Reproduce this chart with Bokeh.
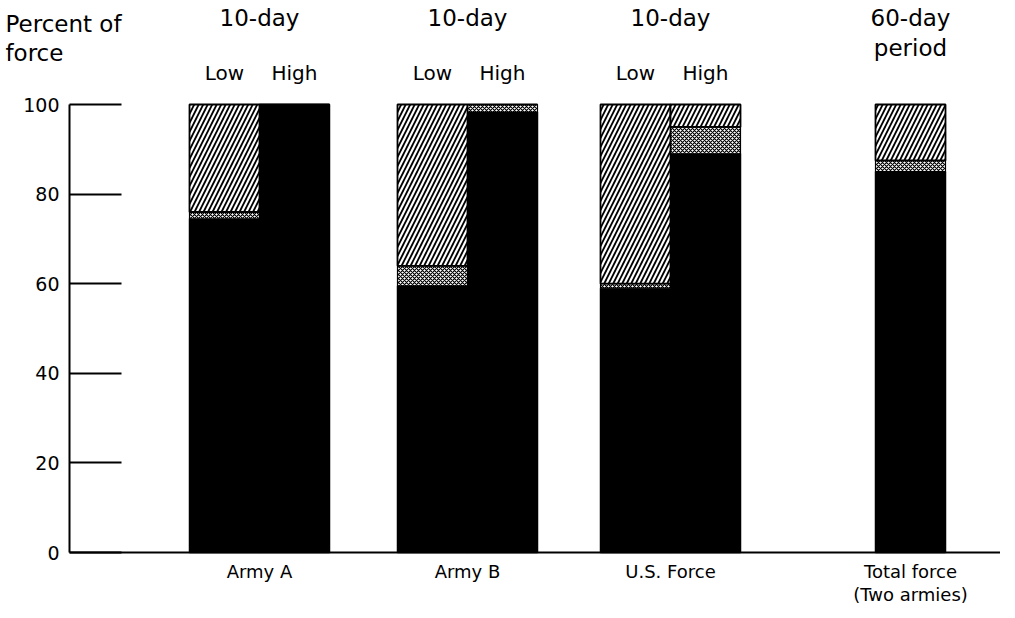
from bokeh.plotting import figure
from bokeh.models import Range1d, FixedTicker, ColumnDataSource
from bokeh.core.properties import value
from bokeh.embed import file_html
from bokeh.resources import INLINE

# ---------------- data ----------------
categories = ["Army A", "Army B", "U.S. Force", "Total force\n(Two armies)"]
period_labels = ["10-day", "10-day", "10-day", "60-day\nperiod"]
y_title = "Percent of\nforce"
y_ticks = [0, 20, 40, 60, 80, 100]

# bars: Army A Low, Army A High, Army B Low, Army B High, U.S. Low, U.S. High, Total
bar_group = [0, 0, 1, 1, 2, 2, 3]
bar_kind = ["Low", "High", "Low", "High", "Low", "High", "Total"]
black_pct = [74.5, 100, 59.5, 98.3, 59, 89, 85]
stipple_pct = [1.5, 0, 4.5, 1.7, 1, 6, 2.5]
hatch_pct = [24.0, 0, 36.0, 0, 40, 5, 12.5]

# ---------------- layout ----------------
FONT_NAME = "DejaVu Sans"
FONT = value(FONT_NAME)
group_centers = [190, 398, 601, 841]
half = 35
bar_w = 70
offset = {"Low": -half, "High": half, "Total": 0}

xs = [group_centers[g] + offset[k] for g, k in zip(bar_group, bar_kind)]
b0 = [0] * len(xs)
t0 = black_pct
t1 = [a + b for a, b in zip(black_pct, stipple_pct)]
t2 = [a + b for a, b in zip(t1, hatch_pct)]

PX = 4.48  # pixels per percent
p = figure(width=1000, height=608, output_backend="svg", toolbar_location=None,
           x_range=Range1d(-69, 931), y_range=Range1d(-56 / PX, 552 / PX),
           min_border=0)
p.outline_line_color = None
p.grid.visible = False
p.background_fill_color = "white"

src = ColumnDataSource(dict(x=xs, b0=b0, t0=t0, t1=t1, t2=t2))
p.vbar(x="x", width=bar_w, bottom="b0", top="t0", source=src,
       fill_color="black", line_color="black", line_width=1.5)
p.vbar(x="x", width=bar_w, bottom="t0", top="t1", source=src,
       fill_color="white", line_color="black", line_width=1.2,
       hatch_pattern="x", hatch_color="black", hatch_scale=4, hatch_weight=1.2)
p.vbar(x="x", width=bar_w, bottom="t1", top="t2", source=src,
       fill_color="white", line_color="black", line_width=1.8,
       hatch_pattern="/", hatch_color="black", hatch_scale=9, hatch_weight=1.8)

# period labels above groups
psrc = ColumnDataSource(dict(x=group_centers, y=[122.1] * 4, t=period_labels))
p.text(x="x", y="y", text="t", source=psrc, text_font=FONT, text_font_size="23px",
       text_align="center", text_baseline="top", text_color="black",
       text_line_height=1.15)

# Low / High labels
lx = [x for x, k in zip(xs, bar_kind) if k != "Total"]
lt = [k for k in bar_kind if k != "Total"]
lsrc = ColumnDataSource(dict(x=lx, y=[109.8] * len(lx), t=lt))
p.text(x="x", y="y", text="t", source=lsrc, text_font=FONT, text_font_size="20px",
       text_align="center", text_baseline="top", text_color="black")

# y title (top-left)
p.text(x=[-64], y=[120.8], text=[y_title], text_font=FONT, text_font_size="23px",
       text_align="left", text_baseline="top", text_color="black",
       text_line_height=1.1)

# y axis
ya = p.yaxis[0]
ya.fixed_location = 0
ya.ticker = FixedTicker(ticks=y_ticks)
ya.bounds = (0, 100)
ya.major_tick_in = 52
ya.major_tick_out = 0
ya.minor_tick_line_color = None
ya.axis_line_width = 2
ya.major_tick_line_width = 2
ya.axis_line_color = "black"
ya.major_tick_line_color = "black"
ya.major_label_text_font = FONT_NAME
ya.major_label_text_font_size = "19px"
ya.major_label_text_color = "black"
ya.major_label_standoff = 10

# x axis
xa = p.xaxis[0]
xa.fixed_location = 0
xa.ticker = FixedTicker(ticks=group_centers)
xa.major_label_overrides = {c: n for c, n in zip(group_centers, categories)}
xa.bounds = (0, 931)
xa.major_tick_in = 0
xa.major_tick_out = 0
xa.minor_tick_line_color = None
xa.axis_line_width = 2
xa.axis_line_color = "black"
xa.major_label_text_font = FONT_NAME
xa.major_label_text_font_size = "18px"
xa.major_label_text_color = "black"
xa.major_label_text_line_height = 1.1
xa.major_label_standoff = 8

open("out.html", "w").write(file_html(p, INLINE))
